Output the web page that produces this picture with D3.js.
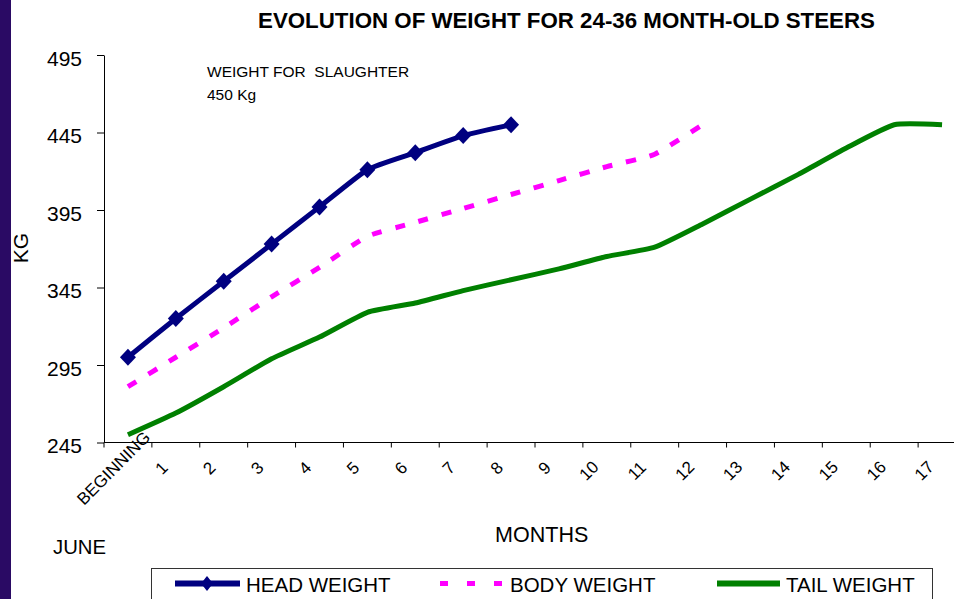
<!DOCTYPE html>
<html><head><meta charset="utf-8">
<script src="https://cdn.jsdelivr.net/npm/d3@7"></script>
<style>
html,body{margin:0;padding:0;background:#fff;overflow:hidden}
svg text{font-family:"Liberation Sans",Arial,Helvetica,sans-serif;fill:#000}
</style>
</head><body>
<svg id="chart" width="954" height="599"></svg>
<script>
// ---- data ----
const categories = ["BEGINNING","1","2","3","4","5","6","7","8","9","10","11","12","13","14","15","16","17"];
const headWeight = [300,325,349,373,397,421,432,443,450];
const bodyWeight = [281,300,319,339,358,378,387,396,405,414,423,431,450];
const tailWeight = [250,264,281,299,313,329,335,343,350,357,365,371,386,402,418,435,450,450];
const yTicks = [245,295,345,395,445,495];
const seriesNames = ["HEAD WEIGHT","BODY WEIGHT","TAIL WEIGHT"];
const titleText = "EVOLUTION OF WEIGHT FOR 24-36 MONTH-OLD STEERS";
const noteLines = ["WEIGHT FOR  SLAUGHTER","450 Kg"];

const FONT = '"Liberation Sans",Arial,Helvetica,sans-serif';
const W = 954, H = 599;
const svg = d3.select("#chart");
svg.append("rect").attr("width",W).attr("height",H).attr("fill","#fff");
svg.append("rect").attr("x",0).attr("y",0).attr("width",11).attr("height",H).attr("fill","#2a0a64");

const x = d3.scaleBand().domain(categories).range([104, 966]).padding(0);
const y = d3.scaleLinear().domain([245,495]).range([442.5,55]);
const cx = d => x(d) + x.bandwidth()/2;

// ---- y axis ----
const gy = svg.append("g").attr("transform","translate(104,0)")
  .call(d3.axisLeft(y).tickValues(yTicks).tickSize(7).tickSizeOuter(0).tickPadding(15).tickFormat(d3.format("d")));
gy.attr("font-family",FONT).attr("font-size",21);
gy.select(".domain").attr("stroke","#000");
gy.selectAll(".tick line").attr("stroke","#000");
gy.selectAll(".tick text").attr("dy","0.48em").attr("fill","#000");

// ---- x axis (category, ticks between categories) ----
const gx = svg.append("g");
gx.append("line").attr("x1",104).attr("x2",966).attr("y1",y(245)).attr("y2",y(245)).attr("stroke","#000");
gx.selectAll("line.tk").data(categories.concat(["__end"])).join("line").attr("class","tk")
  .attr("x1",d => d==="__end" ? 966 : x(d)).attr("x2",d => d==="__end" ? 966 : x(d))
  .attr("y1",y(245)).attr("y2",y(245)+5).attr("stroke","#000");

// ---- series ----
const mkLine = d3.line().x((d,i)=>cx(categories[i])).y(d=>y(d)).curve(d3.curveCardinal.tension(0.5));

svg.append("path").datum(tailWeight).attr("d",mkLine).attr("fill","none")
  .attr("stroke","#008000").attr("stroke-width",5).attr("stroke-linejoin","round");
svg.append("path").datum(bodyWeight).attr("d",mkLine).attr("fill","none")
  .attr("stroke","#ff00ff").attr("stroke-width",5).attr("stroke-dasharray","10,14");
svg.append("path").datum(headWeight).attr("d",mkLine).attr("fill","none")
  .attr("stroke","#000080").attr("stroke-width",5).attr("stroke-linejoin","round");
svg.selectAll("path.dm").data(headWeight).join("path").attr("class","dm")
  .attr("transform",(d,i)=>`translate(${cx(categories[i])},${y(d)})`)
  .attr("d","M0,-8.5L8,0L0,8.5L-8,0Z").attr("fill","#000080");

// x tick labels
gx.selectAll("text").data(categories).join("text")
  .attr("transform",d=>{
    const lx = cx(d) - (d.length===2 ? 18 : 14.5);
    const ly = d.length===2 ? 470.5 : 468;
    return `translate(${lx},${ly}) rotate(-45)`;})
  .attr("text-anchor","middle").attr("dy","0.35em").attr("font-size",17).text(d=>d);

// ---- texts ----
svg.append("text").attr("x",566.5).attr("y",28.3).attr("text-anchor","middle")
  .attr("font-weight","bold").attr("font-size",22.3).text(titleText);
svg.selectAll("text.note").data(noteLines).join("text").attr("class","note")
  .attr("x",207).attr("y",(d,i)=>76.7+i*23.3).attr("font-size",15.5)
  .style("white-space","pre").text(d=>d);
svg.append("text").attr("transform","translate(28,248) rotate(-90)").attr("text-anchor","middle")
  .attr("font-size",21).text("KG");
svg.append("text").attr("x",541.7).attr("y",541.7).attr("text-anchor","middle")
  .attr("font-size",21.5).text("MONTHS");
svg.append("text").attr("x",53).attr("y",554.3).attr("font-size",20.3).text("JUNE");

// ---- legend ----
const lg = svg.append("g");
lg.append("rect").attr("x",151.5).attr("y",568.5).attr("width",781).attr("height",40)
  .attr("fill","#fff").attr("stroke","#333");
const ly0 = 583.5;
lg.append("line").attr("x1",175).attr("x2",240).attr("y1",ly0).attr("y2",ly0)
  .attr("stroke","#000080").attr("stroke-width",6);
lg.append("path").attr("transform",`translate(207,${ly0})`).attr("d","M0,-7.5L6,0L0,7.5L-6,0Z").attr("fill","#000080");
lg.append("line").attr("x1",440).attr("x2",503).attr("y1",ly0).attr("y2",ly0)
  .attr("stroke","#ff00ff").attr("stroke-width",5).attr("stroke-dasharray","8,19");
lg.append("line").attr("x1",717).attr("x2",780).attr("y1",ly0).attr("y2",ly0)
  .attr("stroke","#008000").attr("stroke-width",6);
const legX = [246,510,786];
lg.selectAll("text").data(seriesNames).join("text")
  .attr("x",(d,i)=>legX[i]).attr("y",592).attr("font-size",20.5).text(d=>d);
</script>
</body></html>
